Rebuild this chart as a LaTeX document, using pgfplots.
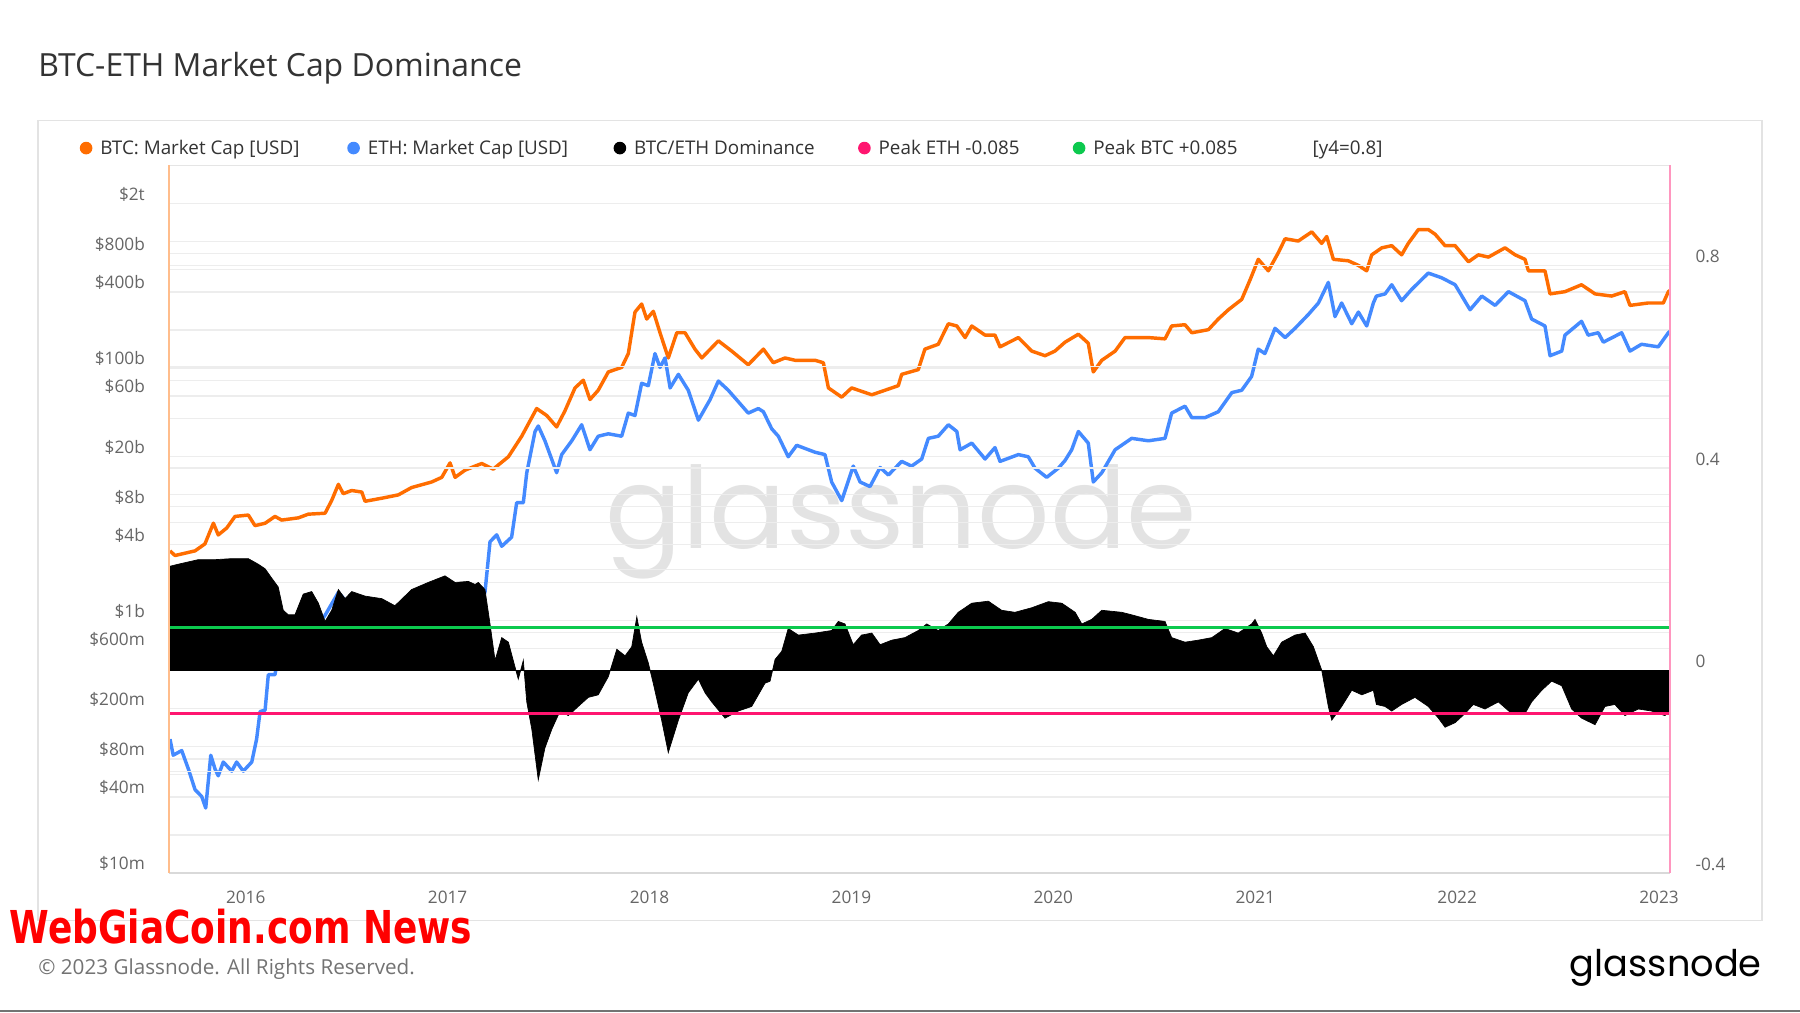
\documentclass[border=0pt]{standalone}
\usepackage{pgfplots}
\usepackage{pgfplotstable}
\pgfplotsset{compat=1.18}
\usepackage{fontspec}
\setmainfont{Open Sans}
\newfontfamily\logofont{Poppins}
\newfontfamily\wgfont{DejaVu Sans}
\definecolor{btc}{HTML}{FF6D00}
\definecolor{eth}{HTML}{448AFF}
\definecolor{pinkc}{HTML}{FF1670}
\definecolor{greenc}{HTML}{0CC94E}
\definecolor{gridc}{HTML}{EDEDED}
\definecolor{tickc}{HTML}{666666}
\definecolor{titlec}{HTML}{333333}

\pgfplotstableread{
x y
2015.625 3.56
2015.650 3.27
2015.749 3.56
2015.798 4.04
2015.840 5.90
2015.864 4.76
2015.906 5.40
2015.947 6.67
2016.013 6.84
2016.046 5.64
2016.096 5.89
2016.145 6.67
2016.178 6.24
2016.261 6.50
2016.310 6.95
2016.393 7.07
2016.426 8.94
2016.459 11.98
2016.483 10.1
2016.525 10.7
2016.575 10.4
2016.591 8.79
2016.674 9.30
2016.756 9.88
2016.822 11.3
2016.921 12.5
2016.971 13.6
2017.012 17.7
2017.037 13.6
2017.086 15.5
2017.136 16.7
2017.169 17.5
2017.226 15.8
2017.301 19.8
2017.367 28.8
2017.441 47.7
2017.491 42.0
2017.540 34.1
2017.581 45.7
2017.631 69.5
2017.672 80.0
2017.705 56.2
2017.746 66.6
2017.796 93
2017.862 101
2017.895 130
2017.928 277
2017.961 321
2017.986 244
2018.019 281
2018.052 190
2018.093 120
2018.135 190
2018.176 190
2018.225 141
2018.259 120
2018.341 164
2018.407 136
2018.489 106
2018.564 141
2018.613 110
2018.671 120
2018.721 115
2018.820 115
2018.861 110
2018.886 69.5
2018.952 58.7
2019.001 69.5
2019.101 61.3
2019.232 72.4
2019.249 89
2019.331 97
2019.364 141
2019.430 154
2019.480 224
2019.522 215
2019.563 174
2019.596 215
2019.662 182
2019.711 182
2019.736 147
2019.827 174
2019.893 136
2019.959 125
2020.008 136
2020.058 160
2020.124 185
2020.173 157
2020.198 93
2020.240 115
2020.306 136
2020.355 174
2020.471 174
2020.553 170
2020.586 215
2020.652 220
2020.686 190
2020.768 201
2020.817 244
2020.867 289
2020.933 349
2020.974 497
2021.015 725
2021.065 588
2021.115 822
2021.148 1055
2021.213 1012
2021.280 1196
2021.329 970
2021.354 1099
2021.387 725
2021.461 706
2021.511 649
2021.552 588
2021.577 787
2021.627 894
2021.676 930
2021.725 787
2021.758 970
2021.808 1248
2021.857 1248
2021.891 1145
2021.940 930
2021.990 930
2022.056 693
2022.105 787
2022.155 755
2022.237 894
2022.287 787
2022.336 725
2022.353 588
2022.435 588
2022.460 386
2022.534 402
2022.616 456
2022.683 386
2022.765 371
2022.831 402
2022.856 313
2022.946 327
2023.021 327
2023.046 402
2023.054 410
}\btcdata

\pgfplotstableread{
x y
2015.625 0.115
2015.641 0.0857
2015.683 0.0933
2015.716 0.0667
2015.749 0.0458
2015.782 0.0404
2015.802 0.0327
2015.827 0.0857
2015.848 0.0667
2015.864 0.0589
2015.889 0.0757
2015.931 0.0641
2015.955 0.0757
2015.988 0.0641
2016.030 0.0757
2016.054 0.115
2016.071 0.190
2016.096 0.195
2016.112 0.372
2016.145 0.372
2016.195 1.10
2016.25 0.85
2016.32 0.75
2016.393 1.10
2016.459 1.67
2016.50 1.40
2016.55 1.00
2016.62 0.95
2016.70 1.05
2016.78 1.00
2016.86 0.80
2016.95 0.65
2017.03 0.85
2017.12 1.10
2017.185 1.67
2017.210 4.2
2017.243 4.77
2017.268 3.87
2017.317 4.57
2017.342 8.57
2017.375 8.57
2017.392 14.8
2017.433 31.4
2017.449 34.7
2017.482 26.5
2017.540 14.8
2017.565 20.6
2017.615 26.5
2017.664 35.5
2017.705 22.5
2017.746 28.8
2017.796 30.1
2017.862 28.8
2017.895 43.9
2017.928 42
2017.961 75.6
2017.994 72.4
2018.027 130
2018.052 101
2018.077 120
2018.102 69.5
2018.143 89
2018.192 66.6
2018.242 38.6
2018.300 56.2
2018.341 78.8
2018.390 66.6
2018.440 54
2018.489 43.9
2018.539 47.7
2018.564 45
2018.605 33
2018.638 28.8
2018.687 19.8
2018.729 24.4
2018.820 21.5
2018.869 20.6
2018.902 12.5
2018.952 8.9
2019.009 16.7
2019.043 12.5
2019.092 11.5
2019.142 16.3
2019.183 14.2
2019.249 18.2
2019.298 16.7
2019.348 19
2019.381 27.7
2019.430 28.8
2019.480 35.5
2019.522 31.4
2019.538 22.5
2019.596 25.4
2019.662 19
2019.711 23.4
2019.736 18.2
2019.827 20.6
2019.876 19.8
2019.909 16.1
2019.967 13.6
2020.025 16.1
2020.058 18.5
2020.091 22.5
2020.124 31.4
2020.173 25.4
2020.198 12.5
2020.240 14.8
2020.306 22.5
2020.388 27.7
2020.471 26.5
2020.553 27.7
2020.586 43.9
2020.652 49.8
2020.686 40.4
2020.751 40.4
2020.817 45
2020.884 63.8
2020.933 66.6
2020.982 85.7
2021.015 141
2021.048 130
2021.098 206
2021.148 174
2021.197 206
2021.263 265
2021.313 327
2021.362 476
2021.395 255
2021.428 327
2021.478 224
2021.511 277
2021.552 215
2021.585 327
2021.600 371
2021.643 386
2021.676 456
2021.725 341
2021.775 419
2021.857 564
2021.923 518
2021.990 456
2022.064 289
2022.122 371
2022.188 313
2022.254 402
2022.336 341
2022.369 244
2022.435 215
2022.460 125
2022.518 136
2022.534 182
2022.616 234
2022.649 182
2022.699 190
2022.724 160
2022.815 190
2022.856 136
2022.913 154
2022.996 147
2023.046 190
2023.054 195
}\ethdata

\pgfplotstableread{
x y
2015.625 0
2015.625 0.206
2015.666 0.210
2015.765 0.219
2015.848 0.219
2015.931 0.221
2016.013 0.221
2016.062 0.210
2016.096 0.201
2016.128 0.183
2016.161 0.165
2016.186 0.119
2016.211 0.110
2016.244 0.110
2016.285 0.151
2016.327 0.156
2016.360 0.133
2016.393 0.097
2016.426 0.119
2016.459 0.160
2016.492 0.142
2016.525 0.156
2016.591 0.147
2016.674 0.142
2016.739 0.128
2016.822 0.160
2016.904 0.174
2016.987 0.187
2017.037 0.174
2017.103 0.176
2017.136 0.170
2017.152 0.174
2017.185 0.160
2017.210 0.092
2017.235 0.020
2017.268 0.065
2017.301 0.056
2017.325 0.020
2017.350 -0.017
2017.375 0.020
2017.392 -0.062
2017.417 -0.116
2017.449 -0.216
2017.482 -0.153
2017.516 -0.116
2017.557 -0.080
2017.598 -0.089
2017.647 -0.071
2017.697 -0.053
2017.746 -0.048
2017.796 -0.012
2017.838 0.042
2017.879 0.029
2017.912 0.047
2017.937 0.106
2017.961 0.056
2017.994 0.015
2018.019 -0.026
2018.060 -0.098
2018.093 -0.162
2018.143 -0.098
2018.192 -0.044
2018.242 -0.017
2018.275 -0.044
2018.308 -0.062
2018.374 -0.094
2018.440 -0.080
2018.506 -0.071
2018.572 -0.025
2018.597 -0.021
2018.622 0.022
2018.655 0.038
2018.687 0.083
2018.737 0.070
2018.820 0.074
2018.902 0.079
2018.935 0.097
2018.968 0.092
2019.009 0.051
2019.050 0.070
2019.101 0.074
2019.142 0.051
2019.200 0.060
2019.265 0.065
2019.331 0.079
2019.373 0.092
2019.430 0.079
2019.480 0.092
2019.529 0.115
2019.596 0.133
2019.678 0.137
2019.744 0.119
2019.810 0.115
2019.893 0.124
2019.975 0.136
2020.042 0.133
2020.108 0.115
2020.141 0.092
2020.190 0.101
2020.240 0.119
2020.339 0.115
2020.388 0.110
2020.471 0.101
2020.553 0.097
2020.586 0.065
2020.652 0.056
2020.718 0.060
2020.785 0.065
2020.850 0.083
2020.916 0.074
2020.982 0.092
2020.999 0.101
2021.032 0.074
2021.057 0.047
2021.090 0.029
2021.131 0.056
2021.197 0.070
2021.247 0.074
2021.288 0.047
2021.329 0.001
2021.362 -0.071
2021.379 -0.098
2021.428 -0.071
2021.478 -0.039
2021.528 -0.048
2021.585 -0.039
2021.600 -0.067
2021.643 -0.071
2021.676 -0.080
2021.725 -0.067
2021.791 -0.053
2021.857 -0.071
2021.907 -0.094
2021.940 -0.112
2021.990 -0.103
2022.039 -0.085
2022.080 -0.067
2022.138 -0.076
2022.204 -0.062
2022.270 -0.085
2022.336 -0.085
2022.369 -0.062
2022.419 -0.039
2022.468 -0.021
2022.518 -0.030
2022.567 -0.076
2022.616 -0.094
2022.683 -0.107
2022.732 -0.071
2022.781 -0.067
2022.831 -0.089
2022.897 -0.076
2022.963 -0.080
2023.029 -0.089
2023.054 -0.080
2023.054 0
}\domdata

\begin{document}
\begin{tikzpicture}
\useasboundingbox (0,0) rectangle (784pt,441pt);
\fill[white] (0,0) rectangle (784pt,441pt);
\begin{scope}[x=0.5pt,y=-0.5pt,yshift=441pt]
  \draw[gray!22, line width=0.6pt] (33,105) rectangle (1535,802);
  \node[anchor=base west, inner sep=0, text=titlec, font=\fontsize{13.9}{16}\selectfont] at (33,66.5) {BTC-ETH Market Cap Dominance};
  % watermark
  \node[anchor=base west, inner sep=0, text=black!11] at (527,478) {\resizebox{257.5pt}{!}{\logofont glassnode}};
  % legend
  \begin{scope}[every node/.style={anchor=base west, inner sep=0, text=titlec, font=\fontsize{8.2}{10}\selectfont}]
    \fill[btc] (75,129) circle (5.5);
    \node at (87,135) {BTC: Market Cap [USD]};
    \fill[eth] (308,129) circle (5.5);
    \node at (320,135) {ETH: Market Cap [USD]};
    \fill[black] (540,129) circle (5.5);
    \node at (552,135) {BTC/ETH Dominance};
    \fill[pinkc] (753,129) circle (5.5);
    \node at (765,135) {Peak ETH -0.085};
    \fill[greenc] (940,129) circle (5.5);
    \node at (952,135) {Peak BTC +0.085};
    \node at (1143,135) {[y4=0.8]};
  \end{scope}
  % footer
  \node[anchor=base west, inner sep=0, text=black!55, font=\fontsize{9}{11}\selectfont] at (33,849) {\textcopyright{} 2023 Glassnode. All Rights Reserved.};
  \node[anchor=base east, inner sep=0, text=black] at (1535,851) {\resizebox{83.5pt}{!}{\logofont glassnode}};
  \node[anchor=base west, inner sep=0, text=red] at (8,822) {\resizebox{201.5pt}{15pt}{\wgfont\bfseries WebGiaCoin.com News}};
  \draw[black!55, line width=1pt] (0,881) -- (1568,881);
\end{scope}

\begin{axis}[
  at={(73.6pt,60.75pt)}, anchor=south west,
  scale only axis, width=653.75pt, height=308.25pt,
  xmin=2015.620, xmax=2023.054,
  ymode=log, ymin=0.01, ymax=4027,
  axis line style={draw=none},
  tick style={draw=none},
  xtick={2016,2017,2018,2019,2020,2021,2022,2023},
  xticklabels={2016,2017,2018,2019,2020,2021,2022,2023},
  ytick={0.01,0.02,0.04,0.06,0.08,0.1,0.2,0.4,0.6,0.8,1,2,4,6,8,10,20,40,60,80,100,200,400,600,800,1000,2000},
  yticklabels={\$10m,,\$40m,,\$80m,,\$200m,,\$600m,,\$1b,,\$4b,,\$8b,,\$20b,,\$60b,,\$100b,,\$400b,,\$800b,,\$2t},
  ymajorgrids, major grid style={gridc, line width=0.5pt},
  every tick label/.append style={font=\fontsize{7.5}{9}\selectfont, text=tickc},
  yticklabel style={xshift=-7pt, yshift=4pt},
  xticklabel style={yshift=-4.5pt},
]
\addplot[btc, line width=1.5pt, line join=round] table[x=x,y=y] {\btcdata};
\addplot[eth, line width=1.5pt, line join=round] table[x=x,y=y] {\ethdata};
\end{axis}

\begin{axis}[
  at={(73.6pt,60.75pt)}, anchor=south west,
  scale only axis, width=653.75pt, height=308.25pt,
  xmin=2015.620, xmax=2023.054,
  ymin=-0.4, ymax=0.998,
  axis y line*=right, axis x line=none,
  axis line style={draw=none},
  tick style={draw=none},
  ytick={-0.4,-0.2,0,0.2,0.4,0.6,0.8},
  yticklabels={-0.4,,0,,0.4,,0.8},
  ymajorgrids, major grid style={gridc, line width=0.5pt},
  every tick label/.append style={font=\fontsize{7.5}{9}\selectfont, text=tickc},
  yticklabel style={xshift=7.6pt, yshift=3.8pt},
]
\addplot[fill=black, draw=black, line width=0.3pt] table[x=x,y=y] {\domdata} -- cycle;
\addplot[greenc, line width=1.2pt] coordinates {(2015.620,0.085) (2023.054,0.085)};
\addplot[pinkc, line width=1.2pt] coordinates {(2015.620,-0.085) (2023.054,-0.085)};
\end{axis}

\begin{scope}[x=0.5pt,y=-0.5pt,yshift=441pt]
  \draw[black!10, line width=0.6pt] (147.2,144) -- (1454.7,144);
  \draw[black!15, line width=0.6pt] (147.2,760.5) -- (1454.7,760.5);
  \draw[btc!45, line width=0.8pt] (147.2,144) -- (147.2,760.5);
  \draw[pinkc!45, line width=0.8pt] (1454.7,144) -- (1454.7,760.5);
\end{scope}
\end{tikzpicture}
\end{document}
